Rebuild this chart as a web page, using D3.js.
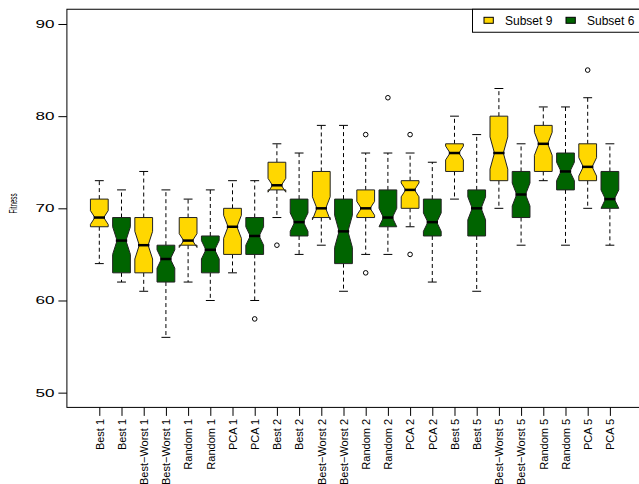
<!DOCTYPE html>
<html>
<head>
<meta charset="utf-8">
<script src="https://cdn.jsdelivr.net/npm/d3@7"></script>
<style>
  body { margin: 0; background: #fff; }
  text { font-family: "Liberation Sans", Arial, Helvetica, sans-serif; fill: #000; }
</style>
</head>
<body>
<div id="chart"></div>
<script>
// Box labels, left to right (Subset 9 / Subset 6 alternate)
const categories = [
  "Best 1", "Best 1", "Best−Worst 1", "Best−Worst 1", "Random 1", "Random 1", "PCA 1", "PCA 1",
  "Best 2", "Best 2", "Best−Worst 2", "Best−Worst 2", "Random 2", "Random 2", "PCA 2", "PCA 2",
  "Best 5", "Best 5", "Best−Worst 5", "Best−Worst 5", "Random 5", "Random 5", "PCA 5", "PCA 5"
];
const seriesNames = ["Subset 9", "Subset 6"];
const seriesColors = ["#FFD700", "#006400"];

// five-number summaries
const lowerWhisker = [64, 62, 61, 56, 62, 60, 63, 60, 69, 65, 66, 61, 65, 65, 68, 62, 71, 61, 70, 66, 73, 66, 70, 66];
const lowerQuartile = [68, 63, 63, 62, 66, 63, 65, 65, 72, 67, 69, 64, 69, 68, 70, 67, 74, 67, 73, 69, 74, 72, 73, 70];
const medians = [69, 66.5, 66, 64.5, 66.5, 65.5, 68, 67, 72.5, 68.5, 70, 67.5, 70, 69, 72, 68.5, 76, 70, 76, 71.5, 77, 74, 74.5, 71];
const upperQuartile = [71, 69, 69, 66, 69, 67, 70, 69, 75, 71, 74, 71, 72, 72, 73, 71, 77, 72, 80, 74, 79, 76, 77, 74];
const upperWhisker = [73, 72, 74, 72, 71, 72, 73, 73, 77, 76, 79, 79, 76, 76, 76, 75, 80, 78, 83, 77, 81, 81, 82, 77];
const outliers = [[], [], [], [], [], [], [], [58], [66], [], [], [], [78, 63], [82], [78, 65], [], [], [], [], [], [], [], [85], []];
const sampleSize = 40; // runs per box, used for the notches

const yTicks = [50, 60, 70, 80, 90];

function drawBoxplot(container) {
  const width = 639, height = 484;
  const svg = d3.select(container).append("svg")
      .attr("width", width)
      .attr("height", height)
      .style("display", "block");

  svg.append("rect").attr("width", width).attr("height", height).attr("fill", "#fff");

  const n = categories.length;
  // R style axes: 4% padding round [0.5, n + 0.5] and [50, 90]
  const xScale = d3.scaleLinear().domain([-0.46, n + 1.46]).range([66.9, 642.3]);
  const yScale = d3.scaleLinear().domain([48.4, 91.6]).range([407.4, 9.25]);

  const unit = xScale(2) - xScale(1);
  const hw = unit * 0.8 / 2;   // half box width
  const nf = 0.5;              // notch fraction

  // frame
  svg.append("rect")
    .attr("x", xScale(-0.46)).attr("y", yScale(91.6))
    .attr("width", xScale(n + 1.46) - xScale(-0.46))
    .attr("height", yScale(48.4) - yScale(91.6))
    .attr("fill", "none").attr("stroke", "#000").attr("stroke-width", 1);

  // y axis
  const yAxis = svg.append("g")
    .attr("transform", `translate(${xScale(-0.46)},0)`)
    .call(d3.axisLeft(yScale).tickValues(yTicks).tickSize(8.5).tickFormat(d3.format("d")));
  yAxis.select(".domain").remove();
  yAxis.selectAll("line").attr("stroke", "#000");
  yAxis.selectAll("text")
    .attr("x", -12.5)
    .attr("font-size", "10.5px")
    .attr("textLength", 19)
    .attr("lengthAdjust", "spacingAndGlyphs");

  // x axis
  const xAxis = svg.append("g")
    .attr("transform", `translate(0,${yScale(48.4)})`)
    .call(d3.axisBottom(xScale).tickValues(d3.range(1, n + 1)).tickSize(8.5)
      .tickFormat(i => categories[i - 1]));
  xAxis.select(".domain").remove();
  xAxis.selectAll("line").attr("stroke", "#000");
  xAxis.selectAll("text")
    .attr("font-size", "11px")
    .attr("y", 0)
    .attr("x", -11.5)
    .attr("dy", "0.35em")
    .attr("transform", "rotate(-90)")
    .style("text-anchor", "end");

  // y axis title
  svg.append("text")
    .attr("transform", "translate(16.5,203.5) rotate(-90)")
    .attr("font-size", "10.5px")
    .attr("textLength", 20)
    .attr("lengthAdjust", "spacingAndGlyphs")
    .style("text-anchor", "middle")
    .text("Fitness");

  const boxes = d3.range(n).map(i => {
    const iqr = upperQuartile[i] - lowerQuartile[i];
    const half = 1.58 * iqr / Math.sqrt(sampleSize);
    return {
      pos: i + 1,
      color: seriesColors[i % 2],
      lo: lowerWhisker[i], q1: lowerQuartile[i], med: medians[i],
      q3: upperQuartile[i], hi: upperWhisker[i],
      cLo: medians[i] - half, cHi: medians[i] + half,
      out: outliers[i]
    };
  });

  const g = svg.selectAll(".box").data(boxes).enter().append("g").attr("class", "box");

  // whiskers (dashed)
  g.append("line")
    .attr("x1", d => xScale(d.pos)).attr("x2", d => xScale(d.pos))
    .attr("y1", d => yScale(d.q3)).attr("y2", d => yScale(d.hi))
    .attr("stroke", "#000").attr("stroke-dasharray", "4,3");
  g.append("line")
    .attr("x1", d => xScale(d.pos)).attr("x2", d => xScale(d.pos))
    .attr("y1", d => yScale(d.q1)).attr("y2", d => yScale(d.lo))
    .attr("stroke", "#000").attr("stroke-dasharray", "4,3");

  // staples
  g.append("line")
    .attr("x1", d => xScale(d.pos) - hw / 2).attr("x2", d => xScale(d.pos) + hw / 2)
    .attr("y1", d => yScale(d.hi)).attr("y2", d => yScale(d.hi))
    .attr("stroke", "#000");
  g.append("line")
    .attr("x1", d => xScale(d.pos) - hw / 2).attr("x2", d => xScale(d.pos) + hw / 2)
    .attr("y1", d => yScale(d.lo)).attr("y2", d => yScale(d.lo))
    .attr("stroke", "#000");

  // notched box
  g.append("polygon")
    .attr("points", d => {
      const cx = xScale(d.pos), xl = cx - hw, xr = cx + hw;
      return [
        [xl, d.q1], [xr, d.q1], [xr, d.cLo], [cx + hw * nf, d.med], [xr, d.cHi],
        [xr, d.q3], [xl, d.q3], [xl, d.cHi], [cx - hw * nf, d.med], [xl, d.cLo]
      ].map(p => [p[0], yScale(p[1])].join(",")).join(" ");
    })
    .attr("fill", d => d.color)
    .attr("stroke", "#222")
    .attr("stroke-width", 1);

  // median
  g.append("line")
    .attr("x1", d => xScale(d.pos) - hw * nf).attr("x2", d => xScale(d.pos) + hw * nf)
    .attr("y1", d => yScale(d.med)).attr("y2", d => yScale(d.med))
    .attr("stroke", "#000").attr("stroke-width", 2.5).attr("stroke-linecap", "square");

  // outliers
  g.selectAll("circle")
    .data(d => d.out.map(v => ({ pos: d.pos, value: v })))
    .enter().append("circle")
    .attr("cx", d => xScale(d.pos)).attr("cy", d => yScale(d.value))
    .attr("r", 2.3)
    .attr("fill", "none").attr("stroke", "#000");

  // legend (top right, horizontal)
  const legend = svg.append("g");
  legend.append("rect")
    .attr("x", 472.5).attr("y", 9.25).attr("width", 180).attr("height", 23)
    .attr("fill", "#fff").attr("stroke", "#000");
  const legendX = [484, 566];
  seriesNames.forEach((name, i) => {
    legend.append("rect")
      .attr("x", legendX[i]).attr("y", 17.3).attr("width", 9.3).attr("height", 6)
      .attr("fill", seriesColors[i]).attr("stroke", "#000");
    legend.append("text")
      .attr("x", legendX[i] + 21).attr("y", 25)
      .attr("font-size", "12px")
      .text(name);
  });
}

drawBoxplot("#chart");
</script>
</body>
</html>
